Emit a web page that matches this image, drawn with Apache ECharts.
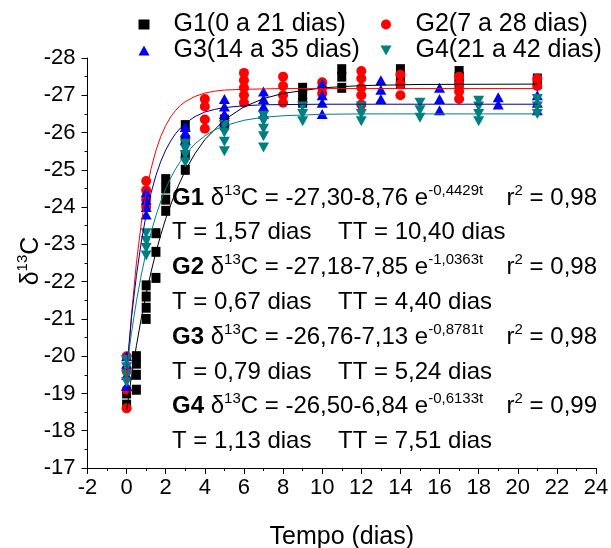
<!DOCTYPE html>
<html>
<head>
<meta charset="utf-8">
<script src="https://cdn.jsdelivr.net/npm/echarts@6/dist/echarts.min.js"></script>
<style>
html,body{margin:0;padding:0;background:#fff;}
#chart{width:611px;height:548px;}
</style>
</head>
<body>
<div id="chart"></div>
<script>
// ---- Data ----
const seriesNames = ['G1(0 a 21 dias)', 'G2(7 a 28 dias)', 'G3(14 a 35 dias)', 'G4(21 a 42 dias)'];

const g1Times = [0, 0.5, 1, 1.5, 2, 3, 5, 9, 11, 14, 17, 21];
const g1Values = [[-18.7,-19.0],[-19.1,-19.5,-19.8,-20.0],[-21.0,-21.3,-21.6,-21.9],[-22.1,-22.8,-23.3],[-23.9,-24.2,-24.5,-24.75],[-25.0,-25.4,-25.8,-26.2],[-26.2,-26.35],[-26.8,-27.0,-27.2],[-27.2,-27.5,-27.7],[-27.3,-27.5,-27.7],[-27.3,-27.5,-27.65],[-27.3,-27.45]];

const g2Times = [0, 1, 4, 6, 8, 10, 12, 14, 17, 21];
const g2Values = [[-18.6,-19.1,-19.6,-20.0],[-24.0,-24.2,-24.45,-24.7],[-26.1,-26.35,-26.7,-26.9],[-26.8,-27.0,-27.2,-27.4,-27.6],[-26.8,-27.0,-27.25,-27.5],[-27.05,-27.2,-27.35],[-26.75,-27.0,-27.2,-27.45,-27.65],[-27.0,-27.3,-27.55],[-26.9,-27.1,-27.3,-27.5],[-27.25,-27.45]];

const g3Times = [0, 1, 3, 5, 7, 10, 13, 16, 19, 21];
const g3Values = [[-19.2,-19.5,-19.8,-20.0],[-23.8,-24.0,-24.2,-24.4],[-25.8,-26.0,-26.15],[-26.3,-26.5,-26.7,-26.9],[-26.5,-26.7,-26.9,-27.1],[-26.5,-26.8,-27.0,-27.3],[-26.9,-27.15,-27.4],[-26.6,-26.9,-27.2],[-26.75,-26.95],[-26.6,-26.8,-27.0]];

const g4Times = [0, 1, 3, 5, 7, 9, 12, 15, 18, 21];
const g4Values = [[-19.3,-19.5,-19.7,-19.9],[-22.7,-22.9,-23.1,-23.3],[-25.2,-25.4,-25.55,-25.7],[-25.5,-25.75,-26.0,-26.2],[-25.6,-25.9,-26.1,-26.3,-26.45],[-26.3,-26.5,-26.7],[-26.3,-26.5,-26.7],[-26.4,-26.6,-26.8],[-26.3,-26.5,-26.7,-26.85],[-26.5,-26.7,-26.9]];

// fitted curves (values along the drawn curves)
const fitTimesG1 = [0, 0.25, 0.5, 0.75, 1, 1.25, 1.5, 1.75, 2, 2.5, 3, 3.5, 4, 5, 6, 7, 8, 10, 12, 15, 21];
const fitG1 = [-18.54, -19.46, -20.28, -21.02, -21.67, -22.26, -22.79, -23.26, -23.69, -24.41, -24.98, -25.44, -25.81, -26.34, -26.69, -26.91, -27.05, -27.20, -27.26, -27.29, -27.30];
const fitTimes = [0, 0.25, 0.5, 0.75, 1, 1.25, 1.5, 1.75, 2, 2.25, 2.5, 2.75, 3, 3.5, 4, 4.5, 5, 6, 7, 8, 10, 12, 21];
const fitG2 = [-19.33, -21.12, -22.50, -23.57, -24.39, -25.03, -25.52, -25.90, -26.19, -26.42, -26.59, -26.73, -26.83, -26.97, -27.06, -27.11, -27.14, -27.16, -27.17, -27.18, -27.18, -27.18, -27.18];
const fitG3 = [-19.63, -21.04, -22.16, -23.07, -23.80, -24.38, -24.85, -25.23, -25.53, -25.77, -25.97, -26.12, -26.25, -26.43, -26.55, -26.62, -26.67, -26.72, -26.745, -26.75, -26.76, -26.76, -26.76];
const fitG4 = [-19.66, -20.63, -21.47, -22.18, -22.80, -23.32, -23.77, -24.16, -24.49, -24.78, -25.02, -25.23, -25.41, -25.70, -25.91, -26.07, -26.18, -26.33, -26.41, -26.45, -26.49, -26.50, -26.50];

const equationLines = [
  ['G1', '13', '-27,30-8,76 e', '-0,4429t', '0,98', 'T = 1,57 dias', 'TT = 10,40 dias'],
  ['G2', '13', '-27,18-7,85 e', '-1,0363t', '0,98', 'T = 0,67 dias', 'TT = 4,40 dias'],
  ['G3', '13', '-26,76-7,13 e', '-0,8781t', '0,98', 'T = 0,79 dias', 'TT = 5,24 dias'],
  ['G4', '13', '-26,50-6,84 e', '-0,6133t', '0,99', 'T = 1,13 dias', 'TT = 7,51 dias']
];

// ---- helpers ----
function pairs(times, values) {
  const out = [];
  times.forEach((t, i) => values[i].forEach(v => out.push([t, v])));
  return out;
}
function zip(ts, vs) { return ts.map((t, i) => [t, vs[i]]); }

const FONT = "'Liberation Sans', Arial, sans-serif";
const colors = ['#000000', '#ff0000', '#0000ff', '#008080'];
const lineColors = ['#000000', '#ff0000', '#00008b', '#008080'];
const invTri = 'path://M0,0 L10,0 L5,9 Z';

const chart = echarts.init(document.getElementById('chart'), null, {renderer: 'canvas'});

const supStyle = {fontFamily: FONT, fontSize: 15, verticalAlign: 'top', lineHeight: 15};
const graphics = [];
const rowY0 = 198, rowStep = 34.8;
equationLines.forEach((L, i) => {
  const y1 = rowY0 + rowStep * (2 * i);
  const y2 = rowY0 + rowStep * (2 * i + 1);
  graphics.push({
    type: 'text', x: 172, y: y1, z: 100,
    style: {
      text: '{b|' + L[0] + '}{n| δ}{s|' + L[1] + '}{n|C = ' + L[2] + '}{s|' + L[3] + '}',
      textAlign: 'left', textVerticalAlign: 'middle',
      fontFamily: FONT, fontSize: 24, fill: '#000',
      rich: {
        b: {fontFamily: FONT, fontSize: 24, fontWeight: 'bold', lineHeight: 30},
        n: {fontFamily: FONT, fontSize: 24, lineHeight: 30},
        s: supStyle
      }
    }
  });
  graphics.push({
    type: 'text', x: 597, y: y1, z: 100,
    style: {
      text: '{n|r}{s|2}{n| = ' + L[4] + '}',
      textAlign: 'right', textVerticalAlign: 'middle',
      fontFamily: FONT, fontSize: 24, fill: '#000',
      rich: {
        n: {fontFamily: FONT, fontSize: 24, lineHeight: 30},
        s: supStyle
      }
    }
  });
  graphics.push({
    type: 'text', x: 172, y: y2, z: 100,
    style: {
      text: L[5], textAlign: 'left', textVerticalAlign: 'middle',
      fontFamily: FONT, fontSize: 24, fill: '#000'
    }
  });
  graphics.push({
    type: 'text', x: 338, y: y2, z: 100,
    style: {
      text: L[6], textAlign: 'left', textVerticalAlign: 'middle',
      fontFamily: FONT, fontSize: 24, fill: '#000'
    }
  });
});
// y axis title (rotated)
graphics.push({
  type: 'text', x: 31, y: 261, rotation: Math.PI / 2, z: 100,
  style: {
    text: '{n|δ}{s|13}{n|C}', textAlign: 'center', textVerticalAlign: 'middle',
    fontFamily: FONT, fontSize: 25, fill: '#000',
    rich: {
      n: {fontFamily: FONT, fontSize: 25, lineHeight: 31},
      s: supStyle
    }
  }
});

const legendCommon = {
  orient: 'vertical', top: 7, itemWidth: 11, itemHeight: 10, itemGap: 1,
  textStyle: {fontFamily: FONT, fontSize: 25, color: '#000', padding: [0, 0, 0, 19]},
  selectedMode: false
};

const option = {
  animation: false,
  backgroundColor: '#ffffff',
  textStyle: {fontFamily: FONT},
  grid: {left: 87.5, right: 15, top: 58, bottom: 80, containLabel: false, outerBoundsMode: 'none'},
  legend: [
    Object.assign({}, legendCommon, {data: [seriesNames[0], seriesNames[2]], left: 133.5}),
    Object.assign({}, legendCommon, {data: [seriesNames[1], seriesNames[3]], left: 375.5})
  ],
  xAxis: {
    type: 'value', min: -2, max: 24, interval: 2,
    name: 'Tempo (dias)', nameLocation: 'middle', nameGap: 57,
    nameTextStyle: {fontFamily: FONT, fontSize: 25, color: '#000'},
    axisLine: {show: true, onZero: false, lineStyle: {color: '#000', width: 1}},
    axisTick: {show: true, inside: false, length: 6, lineStyle: {color: '#000'}},
    minorTick: {show: true, splitNumber: 2, length: 3, lineStyle: {color: '#000'}},
    splitLine: {show: false},
    axisLabel: {fontFamily: FONT, fontSize: 22, color: '#000', margin: 9}
  },
  yAxis: {
    type: 'value', min: -28, max: -17, interval: 1, inverse: true,
    axisLine: {show: true, onZero: false, lineStyle: {color: '#000', width: 1}},
    axisTick: {show: true, inside: false, length: 6, lineStyle: {color: '#000'}},
    minorTick: {show: true, splitNumber: 2, length: 3, lineStyle: {color: '#000'}},
    splitLine: {show: false},
    axisLabel: {fontFamily: FONT, fontSize: 22, color: '#000', margin: 12}
  },
  graphic: graphics,
  series: [
    {name: seriesNames[0], type: 'scatter', symbol: 'rect', symbolSize: [9, 10], z: 2,
     itemStyle: {color: colors[0], opacity: 1}, data: pairs(g1Times, g1Values)},
    {name: seriesNames[1], type: 'scatter', symbol: 'circle', symbolSize: 10, z: 3,
     itemStyle: {color: colors[1], opacity: 1}, data: pairs(g2Times, g2Values)},
    {name: seriesNames[2], type: 'scatter', symbol: 'triangle', symbolSize: [11, 10], z: 4,
     itemStyle: {color: colors[2], opacity: 1}, data: pairs(g3Times, g3Values)},
    {name: seriesNames[3], type: 'scatter', symbol: invTri, symbolSize: [11, 10], z: 5,
     itemStyle: {color: colors[3], opacity: 1}, data: pairs(g4Times, g4Values)},
    {name: 'fit1', type: 'line', smooth: false, showSymbol: false, silent: true, z: 6,
     lineStyle: {color: lineColors[0], width: 1}, data: zip(fitTimesG1, fitG1)},
    {name: 'fit2', type: 'line', smooth: false, showSymbol: false, silent: true, z: 6,
     lineStyle: {color: lineColors[1], width: 1}, data: zip(fitTimes, fitG2)},
    {name: 'fit3', type: 'line', smooth: false, showSymbol: false, silent: true, z: 6,
     lineStyle: {color: lineColors[2], width: 1}, data: zip(fitTimes, fitG3)},
    {name: 'fit4', type: 'line', smooth: false, showSymbol: false, silent: true, z: 6,
     lineStyle: {color: lineColors[3], width: 1}, data: zip(fitTimes, fitG4)}
  ]
};
chart.setOption(option);
</script>
</body>
</html>
